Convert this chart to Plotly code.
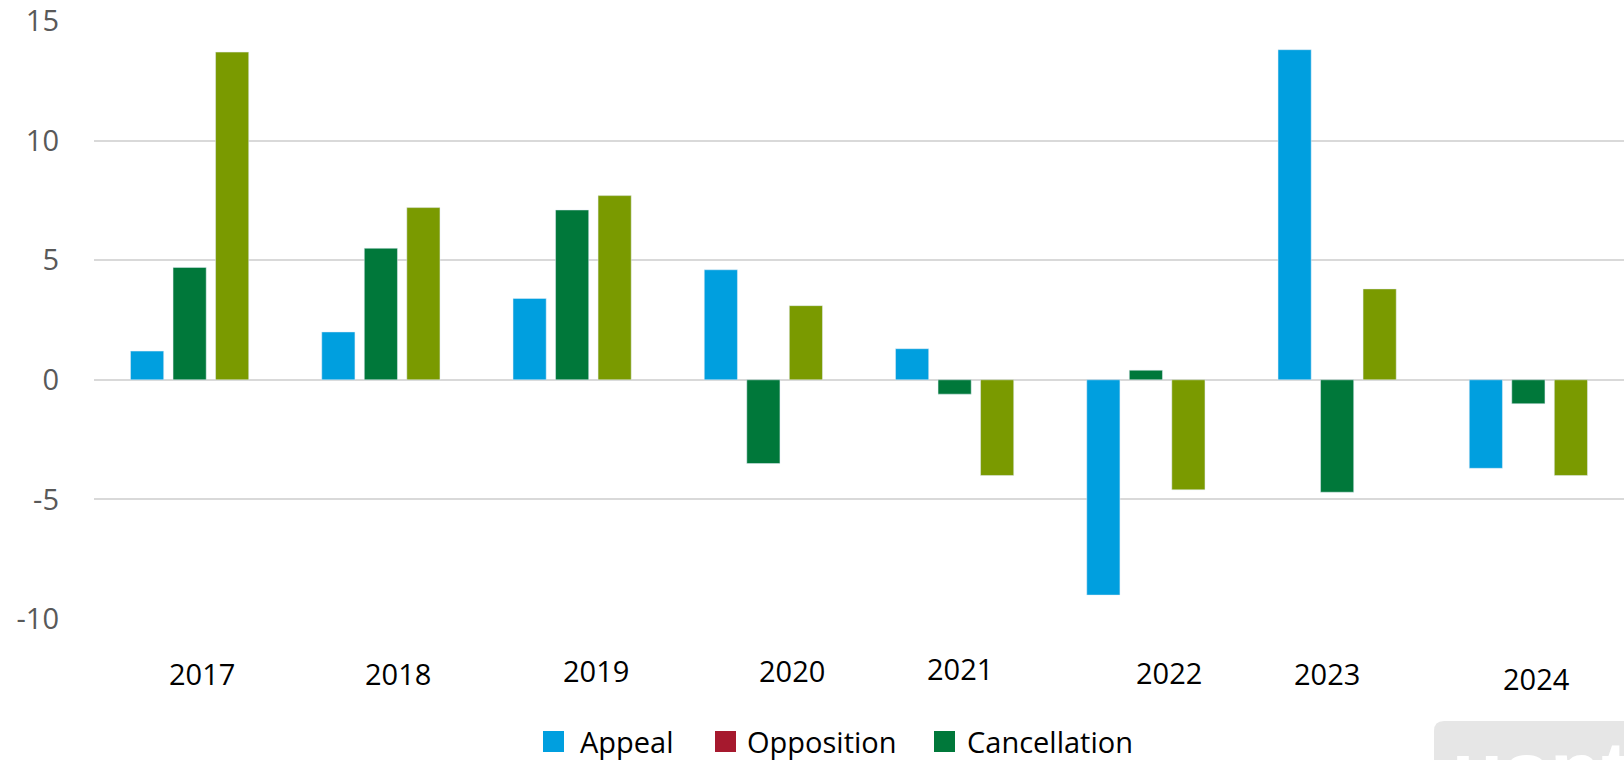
import plotly.graph_objects as go

# ---- data ----
years = ["2017", "2018", "2019", "2020", "2021", "2022", "2023", "2024"]
appeal = [1.2, 2.0, 3.4, 4.6, 1.3, -9.0, 13.8, -3.7]
cancellation = [4.7, 5.5, 7.1, -3.5, -0.6, 0.4, -4.7, -1.0]
unlabeled = [13.7, 7.2, 7.7, 3.1, -4.0, -4.6, 3.8, -4.0]
legend_names = ["Appeal", "Opposition", "Cancellation"]
y_ticks = [-10, -5, 0, 5, 10, 15]
y_tick_text = ["-10", "-5", "0", "5", "10", "15"]

# ---- style ----
C_BLUE = "#009fdf"
C_RED = "#a6192e"
C_DGREEN = "#00783a"
C_OLIVE = "#7a9a00"
legend_colors = [C_BLUE, C_RED, C_DGREEN]
FONT = "Open Sans"

W, H = 1624, 760
ML, MR, MT, MB = 94, 0, 21, 141
PW = W - ML - MR
PH = H - MT - MB


def px_x(px):
    return (px - ML) / PW


def px_y(py):
    return (H - MB - py) / PH


fig = go.Figure()
for name, vals, col, grp in [
    ("Appeal", appeal, C_BLUE, "a"),
    ("Cancellation", cancellation, C_DGREEN, "b"),
    ("unlabeled", unlabeled, C_OLIVE, "c"),
]:
    fig.add_trace(go.Bar(x=years, y=vals, name=name, marker_color=col,
                         offsetgroup=grp, showlegend=False))

# year labels (slightly irregular placement as in reference)
label_dx = [12, 17, 24, 29, 5, 23, -10, 8]
label_dy = [54, 54, 51, 51, 49, 53, 54, 59]
annotations = []
for i, (yr, dx, dy) in enumerate(zip(years, label_dx, label_dy)):
    annotations.append(dict(x=i, xref="x", y=0, yref="paper", text=yr,
                            showarrow=False, xanchor="center", yanchor="middle",
                            xshift=dx, yshift=-dy,
                            font=dict(family=FONT, size=29, color="#000000")))

# manual legend
shapes = []
sw_x = [543, 715, 934]
tx_x = [578, 745, 965]
for nm, col, sx, tx in zip(legend_names, legend_colors, sw_x, tx_x):
    shapes.append(dict(type="rect", xref="paper", yref="paper",
                       x0=px_x(sx), x1=px_x(sx + 21), y0=px_y(752), y1=px_y(731),
                       fillcolor=col, line=dict(width=0)))
    annotations.append(dict(x=px_x(tx), xref="paper", y=px_y(741), yref="paper",
                            text=nm, showarrow=False, xanchor="left", yanchor="middle",
                            font=dict(family=FONT, size=29, color="#000000")))

# watermark box (bottom right)
x0, x1, y0, y1, r = px_x(1434), px_x(1640), px_y(721), px_y(780), 10
rx, ry = r / PW, r / PH
path = (f"M {x0},{y1} L {x0},{y0 - ry} Q {x0},{y0} {x0 + rx},{y0} "
        f"L {x1},{y0} L {x1},{y1} Z")
shapes.append(dict(type="path", xref="paper", yref="paper", path=path,
                   fillcolor="#e6e6e6", line=dict(width=0), layer="below"))
annotations.append(dict(x=px_x(1450), xref="paper", y=px_y(722), yref="paper",
                        text="<b>uspto</b>", showarrow=False, xanchor="left",
                        yanchor="top",
                        font=dict(family="Liberation Sans", size=84, color="#ffffff")))

fig.update_layout(
    width=W, height=H,
    margin=dict(l=ML, r=MR, t=MT, b=MB, pad=0),
    paper_bgcolor="white", plot_bgcolor="white",
    barmode="group", bargap=0.333, bargroupgap=0.22,
    showlegend=False,
    annotations=annotations, shapes=shapes,
    font=dict(family=FONT),
)
fig.update_xaxes(type="category", range=[-0.5, len(years) - 0.5],
                 showticklabels=False, showgrid=False,
                 zeroline=False, showline=False, ticks="")
fig.update_yaxes(range=[-10, 15], tickvals=y_ticks, ticktext=y_tick_text,
                 showgrid=True,
                 gridcolor="#d9d9d9", gridwidth=1.5, zeroline=True,
                 zerolinecolor="#d9d9d9", zerolinewidth=1.5, showline=False,
                 ticks="", ticklabelstandoff=34,
                 tickfont=dict(family=FONT, size=29, color="#595959"))

fig.write_html("out.html", config={"displayModeBar": False},
               post_script="document.body.style.margin='0';"
                           "document.body.style.overflow='hidden';")
